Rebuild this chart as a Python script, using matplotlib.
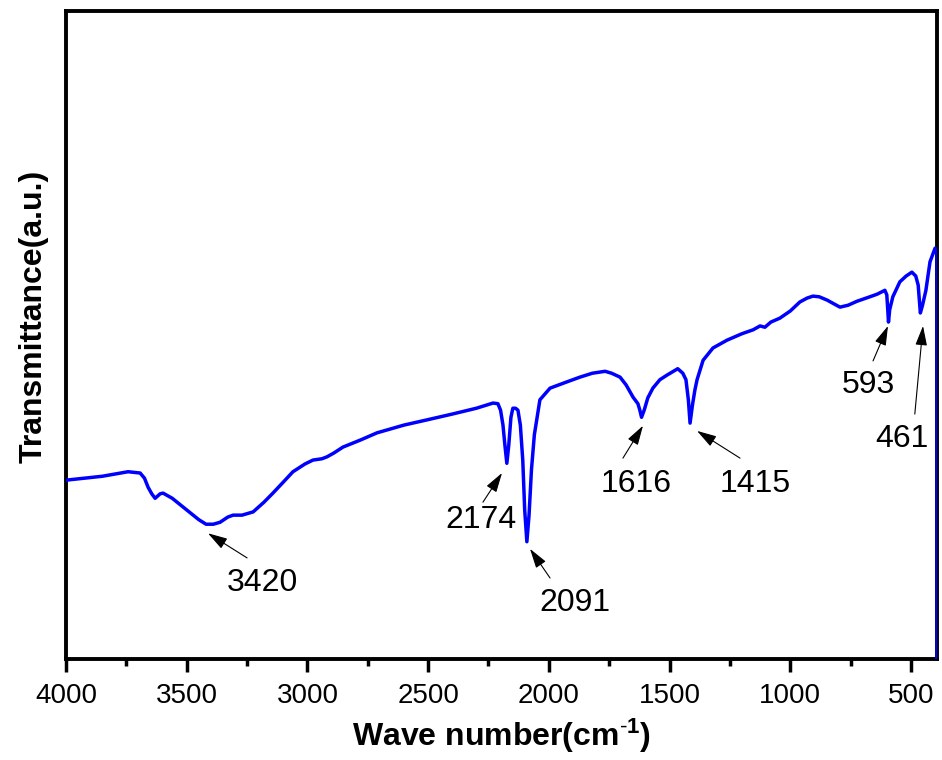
import numpy as np
import matplotlib
matplotlib.use("Agg")
import matplotlib.pyplot as plt
from matplotlib.ticker import MultipleLocator

plt.rcParams['font.family'] = ['Liberation Sans', 'DejaVu Sans']
plt.rcParams['mathtext.fontset'] = 'custom'
plt.rcParams['mathtext.rm'] = 'Liberation Sans'
plt.rcParams['mathtext.bf'] = 'Liberation Sans:bold'
plt.rcParams['mathtext.default'] = 'bf'

# FTIR spectrum (wavenumber in cm-1, transmittance in a.u.)
wavenumber = [4000, 3850, 3743, 3693, 3675, 3660, 3645, 3631, 3610, 3598, 3560, 3500,
              3450, 3420, 3390, 3362, 3330, 3308, 3271, 3225, 3180, 3143, 3100, 3060,
              3010, 2977, 2940, 2919, 2890, 2853, 2780, 2712, 2600, 2505, 2400, 2300,
              2231, 2211, 2200, 2190, 2182, 2174, 2166, 2157, 2149, 2138, 2128, 2118,
              2108, 2100, 2091, 2082, 2072, 2060, 2037, 1995, 1930, 1871, 1820, 1767,
              1740, 1705, 1680, 1651, 1631, 1623, 1616, 1605, 1590, 1569, 1540, 1511,
              1466, 1445, 1432, 1422, 1415, 1405, 1395, 1386, 1361, 1320, 1262, 1200,
              1154, 1125, 1105, 1080, 1043, 1000, 960, 930, 906, 880, 848, 794, 760,
              724, 670, 640, 608, 600, 596, 593, 588, 575, 546, 520, 496, 480, 470,
              461, 452, 438, 421, 400, 392, 392]
transmittance = [27.6, 28.2, 28.9, 28.7, 27.9, 26.5, 25.5, 24.8, 25.5, 25.6, 24.8, 23.0,
                 21.5, 20.8, 20.8, 21.1, 21.9, 22.2, 22.2, 22.7, 24.2, 25.6, 27.3, 28.9,
                 30.1, 30.7, 30.9, 31.2, 31.8, 32.7, 33.8, 34.9, 36.1, 36.9, 37.8, 38.7,
                 39.5, 39.4, 38.4, 36.1, 33.0, 30.2, 33.0, 37.3, 38.7, 38.7, 38.4, 36.1,
                 30.7, 23.0, 18.1, 22.2, 29.2, 34.6, 40.0, 41.8, 42.7, 43.5, 44.1, 44.4,
                 44.1, 43.5, 42.3, 40.4, 39.4, 38.4, 37.3, 38.4, 40.3, 41.8, 43.1, 43.8,
                 44.8, 44.1, 43.1, 40.0, 36.4, 39.2, 41.5, 43.1, 46.1, 48.0, 49.2, 50.2,
                 50.8, 51.4, 51.2, 52.0, 52.6, 53.7, 55.1, 55.7, 56.0, 55.9, 55.4, 54.3, 54.6,
                 55.2, 55.9, 56.3, 56.9, 56.2, 53.9, 52.0, 53.9, 55.9, 58.2, 59.1, 59.7, 59.1, 57.7,
                 53.4, 54.6, 56.9, 61.3, 63.4, 63.1, 0.0]

# peak labels: text position, arrow tail, arrow head
peak_labels = ['3420', '2174', '2091', '1616', '1415', '593', '461']
text_pos = [(3188, 11.7), (2281, 21.5), (1892, 8.6), (1639, 27.0), (1146, 27.0), (678, 42.3), (537, 34.0)]
arrow_tail = [(3250, 15.6), (2273, 24.2), (1995, 12.5), (1693, 31.0), (1208, 31.0), (657, 46.0), (484, 37.8)]
arrow_head = [(3412, 19.4), (2194, 28.7), (2078, 17.0), (1610, 36.0), (1386, 35.2), (595, 51.4), (450, 51.4)]

fig = plt.figure(figsize=(9.42, 7.6), dpi=100)
ax = fig.add_axes([0.0701, 0.1329, 0.9246, 0.8526])

ax.plot(wavenumber, transmittance, color='#0000ff', lw=2.5, zorder=3)

for lab, tp, tail, head in zip(peak_labels, text_pos, arrow_tail, arrow_head):
    ax.annotate('', xy=head, xytext=tail,
                arrowprops=dict(arrowstyle='-|>,head_length=0.6,head_width=0.18', color='black',
                                lw=0.8, mutation_scale=20, shrinkA=0, shrinkB=0))
    ax.text(tp[0], tp[1], lab, fontsize=23, ha='center', va='center')

ax.set_xlim(4000, 392)
ax.set_ylim(0, 100)
ax.xaxis.set_major_locator(MultipleLocator(500))
ax.xaxis.set_minor_locator(MultipleLocator(250))
ax.set_yticks([])
ax.tick_params(axis='x', which='major', direction='out', length=9, width=2.5, labelsize=20, pad=8)
ax.tick_params(axis='x', which='minor', direction='out', length=5, width=2.5)
for sp in ax.spines.values():
    sp.set_linewidth(2.8)

ax.set_xlabel(r'Wave number(cm$^{\text{-}1}$)', fontsize=23, fontweight='bold', labelpad=6)
ax.set_ylabel('Transmittance(a.u.)', fontsize=23, fontweight='bold')
ax.yaxis.set_label_coords(-0.02, 0.528)

fig.savefig('out.png', dpi=100)
